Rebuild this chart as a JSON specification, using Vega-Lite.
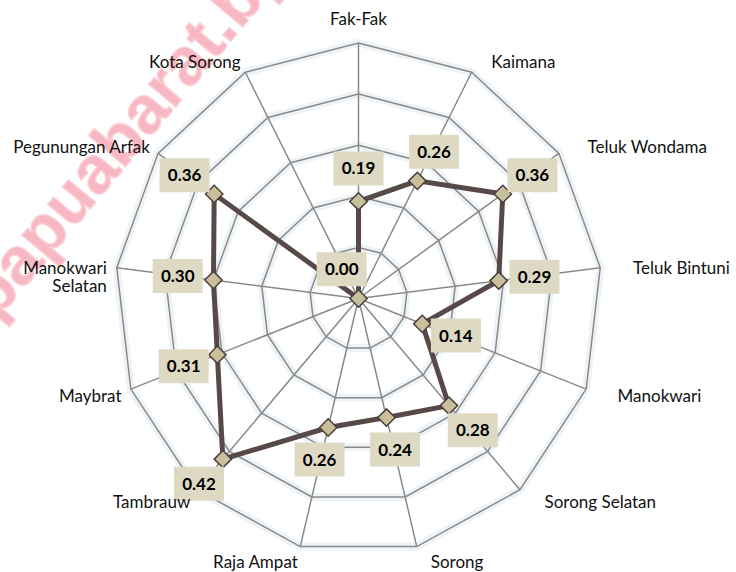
{
  "$schema": "https://vega.github.io/schema/vega-lite/v6.json",
  "width": 487,
  "height": 511,
  "autosize": {"type": "none"},
  "padding": {"left": 115, "top": 43, "right": 134, "bottom": 18},
  "background": "white",
  "config": {"view": {"stroke": null}},
  "datasets": {
    "d": [
      {"region": "Fak-Fak", "value": 0.19},
      {"region": "Kaimana", "value": 0.26},
      {"region": "Teluk Wondama", "value": 0.36},
      {"region": "Teluk Bintuni", "value": 0.29},
      {"region": "Manokwari", "value": 0.14},
      {"region": "Sorong Selatan", "value": 0.28},
      {"region": "Sorong", "value": 0.24},
      {"region": "Raja Ampat", "value": 0.26},
      {"region": "Tambrauw", "value": 0.42},
      {"region": "Maybrat", "value": 0.31},
      {"region": "Manokwari Selatan", "value": 0.30},
      {"region": "Pegunungan Arfak", "value": 0.36},
      {"region": "Kota Sorong", "value": 0.00}
    ]
  },
  "encoding": {
    "x": {"field": "X", "type": "quantitative", "scale": {"domain": [-0.5, 0.5], "nice": false, "zero": false}, "axis": null},
    "y": {"field": "Y", "type": "quantitative", "scale": {"domain": [-0.5, 0.5], "nice": false, "zero": false}, "axis": null}
  },
  "layer": [
    {
      "data": {"values": [{"t": "papuabarat.bps.go.id"}]},
      "transform": [
        {"calculate": "-0.745", "as": "X"},
        {"calculate": "-0.045", "as": "Y"}
      ],
      "mark": {"type": "text", "font": "Liberation Sans", "fontWeight": "bold", "fontSize": 67, "fill": "#f8b8c3", "stroke": "#fbd0d7", "strokeWidth": 1.5, "angle": 310, "align": "left", "baseline": "alphabetic", "clip": false},
      "encoding": {
        "text": {"field": "t"}
      }
    },
    {
      "data": {"name": "d"},
      "transform": [
        {"window": [{"op": "row_number", "as": "rn"}]},
        {"calculate": "(datum.rn-1)*2*PI/13", "as": "a"},
        {"calculate": "[0.1,0.2,0.3,0.4,0.5]", "as": "lv"},
        {"flatten": ["lv"]},
        {"calculate": "datum.lv*sin(datum.a)", "as": "X"},
        {"calculate": "datum.lv*cos(datum.a)", "as": "Y"}
      ],
      "layer": [
        {
          "mark": {"type": "line", "interpolate": "linear-closed", "stroke": "#e6eef4", "strokeWidth": 8, "opacity": 0.7},
          "encoding": {"detail": {"field": "lv", "type": "nominal"}, "order": {"field": "rn", "type": "quantitative"}}
        },
        {
          "mark": {"type": "line", "interpolate": "linear-closed", "stroke": "#8a8a8a", "strokeWidth": 1.5},
          "encoding": {"detail": {"field": "lv", "type": "nominal"}, "order": {"field": "rn", "type": "quantitative"}}
        }
      ]
    },
    {
      "data": {"name": "d"},
      "transform": [
        {"window": [{"op": "row_number", "as": "rn"}]},
        {"calculate": "(datum.rn-1)*2*PI/13", "as": "a"},
        {"calculate": "0.5*sin(datum.a)", "as": "X"},
        {"calculate": "0.5*cos(datum.a)", "as": "Y"}
      ],
      "mark": {"type": "rule", "stroke": "#8a8a8a", "strokeWidth": 1.5},
      "encoding": {"x2": {"datum": 0}, "y2": {"datum": 0}}
    },
    {
      "data": {"name": "d"},
      "transform": [
        {"window": [{"op": "row_number", "as": "rn"}]},
        {"calculate": "(datum.rn-1)*2*PI/13", "as": "a"},
        {"calculate": "datum.value*sin(datum.a)", "as": "X"},
        {"calculate": "datum.value*cos(datum.a)", "as": "Y"}
      ],
      "layer": [
        {
          "mark": {"type": "line", "interpolate": "linear-closed", "stroke": "#574948", "strokeWidth": 5},
          "encoding": {"order": {"field": "rn", "type": "quantitative"}}
        },
        {
          "mark": {"type": "point", "shape": "diamond", "size": 300, "filled": true, "fill": "#c9c09b", "stroke": "#4a3d3b", "strokeWidth": 1.5, "opacity": 1}
        }
      ]
    },
    {
      "data": {"name": "d"},
      "transform": [
        {"window": [{"op": "row_number", "as": "rn"}]},
        {"calculate": "(datum.rn-1)*2*PI/13", "as": "a"},
        {"calculate": "datum.value*sin(datum.a) + 36*sin(datum.a)/487", "as": "X"},
        {"calculate": "datum.value*cos(datum.a) + 33*cos(datum.a)/511", "as": "Y"}
      ],
      "layer": [
        {
          "mark": {"type": "point", "shape": "M-1,-0.68L1,-0.68L1,0.68L-1,0.68Z", "size": 2500, "filled": true, "fill": "#ddd9c3", "strokeWidth": 0, "opacity": 1}
        },
        {
          "mark": {"type": "text", "font": "Lato", "fontWeight": "bold", "fontSize": 17, "fill": "#000000", "align": "center", "baseline": "middle", "dy": 1},
          "encoding": {"text": {"field": "value", "type": "quantitative", "format": ".2f"}}
        }
      ]
    },
    {
      "data": {"name": "d"},
      "transform": [
        {"window": [{"op": "row_number", "as": "rn"}]},
        {"calculate": "(datum.rn-1)*2*PI/13", "as": "a"},
        {"filter": "sin(datum.a) > 0.01"},
        {"calculate": "0.5*sin(datum.a) + (8+25*abs(sin(datum.a)))/487", "as": "X"},
        {"calculate": "0.5*cos(datum.a) - (3-14*cos(datum.a))/511", "as": "Y"}
      ],
      "mark": {"type": "text", "font": "Lato", "fontSize": 17, "fill": "#111111", "align": "left", "baseline": "middle", "clip": false},
      "encoding": {"text": {"field": "region"}}
    },
    {
      "data": {"name": "d"},
      "transform": [
        {"window": [{"op": "row_number", "as": "rn"}]},
        {"calculate": "(datum.rn-1)*2*PI/13", "as": "a"},
        {"filter": "sin(datum.a) < -0.01"},
        {"calculate": "replace(datum.region, 'Manokwari Selatan', 'Manokwari\\nSelatan')", "as": "lab"},
        {"calculate": "0.5*sin(datum.a) - (10*abs(sin(datum.a)))/487", "as": "X"},
        {"calculate": "0.5*cos(datum.a) - (3-14*cos(datum.a))/511", "as": "Y"}
      ],
      "mark": {"type": "text", "font": "Lato", "fontSize": 17, "fill": "#111111", "align": "right", "baseline": "middle", "lineBreak": "\n", "lineHeight": 18, "clip": false},
      "encoding": {"text": {"field": "lab"}}
    },
    {
      "data": {"name": "d"},
      "transform": [
        {"window": [{"op": "row_number", "as": "rn"}]},
        {"calculate": "(datum.rn-1)*2*PI/13", "as": "a"},
        {"filter": "abs(sin(datum.a)) <= 0.01 && cos(datum.a) > 0"},
        {"calculate": "0", "as": "X"},
        {"calculate": "0.5 + 23/511", "as": "Y"}
      ],
      "mark": {"type": "text", "font": "Lato", "fontSize": 17, "fill": "#111111", "align": "center", "baseline": "middle", "clip": false},
      "encoding": {"text": {"field": "region"}}
    }
  ]
}
